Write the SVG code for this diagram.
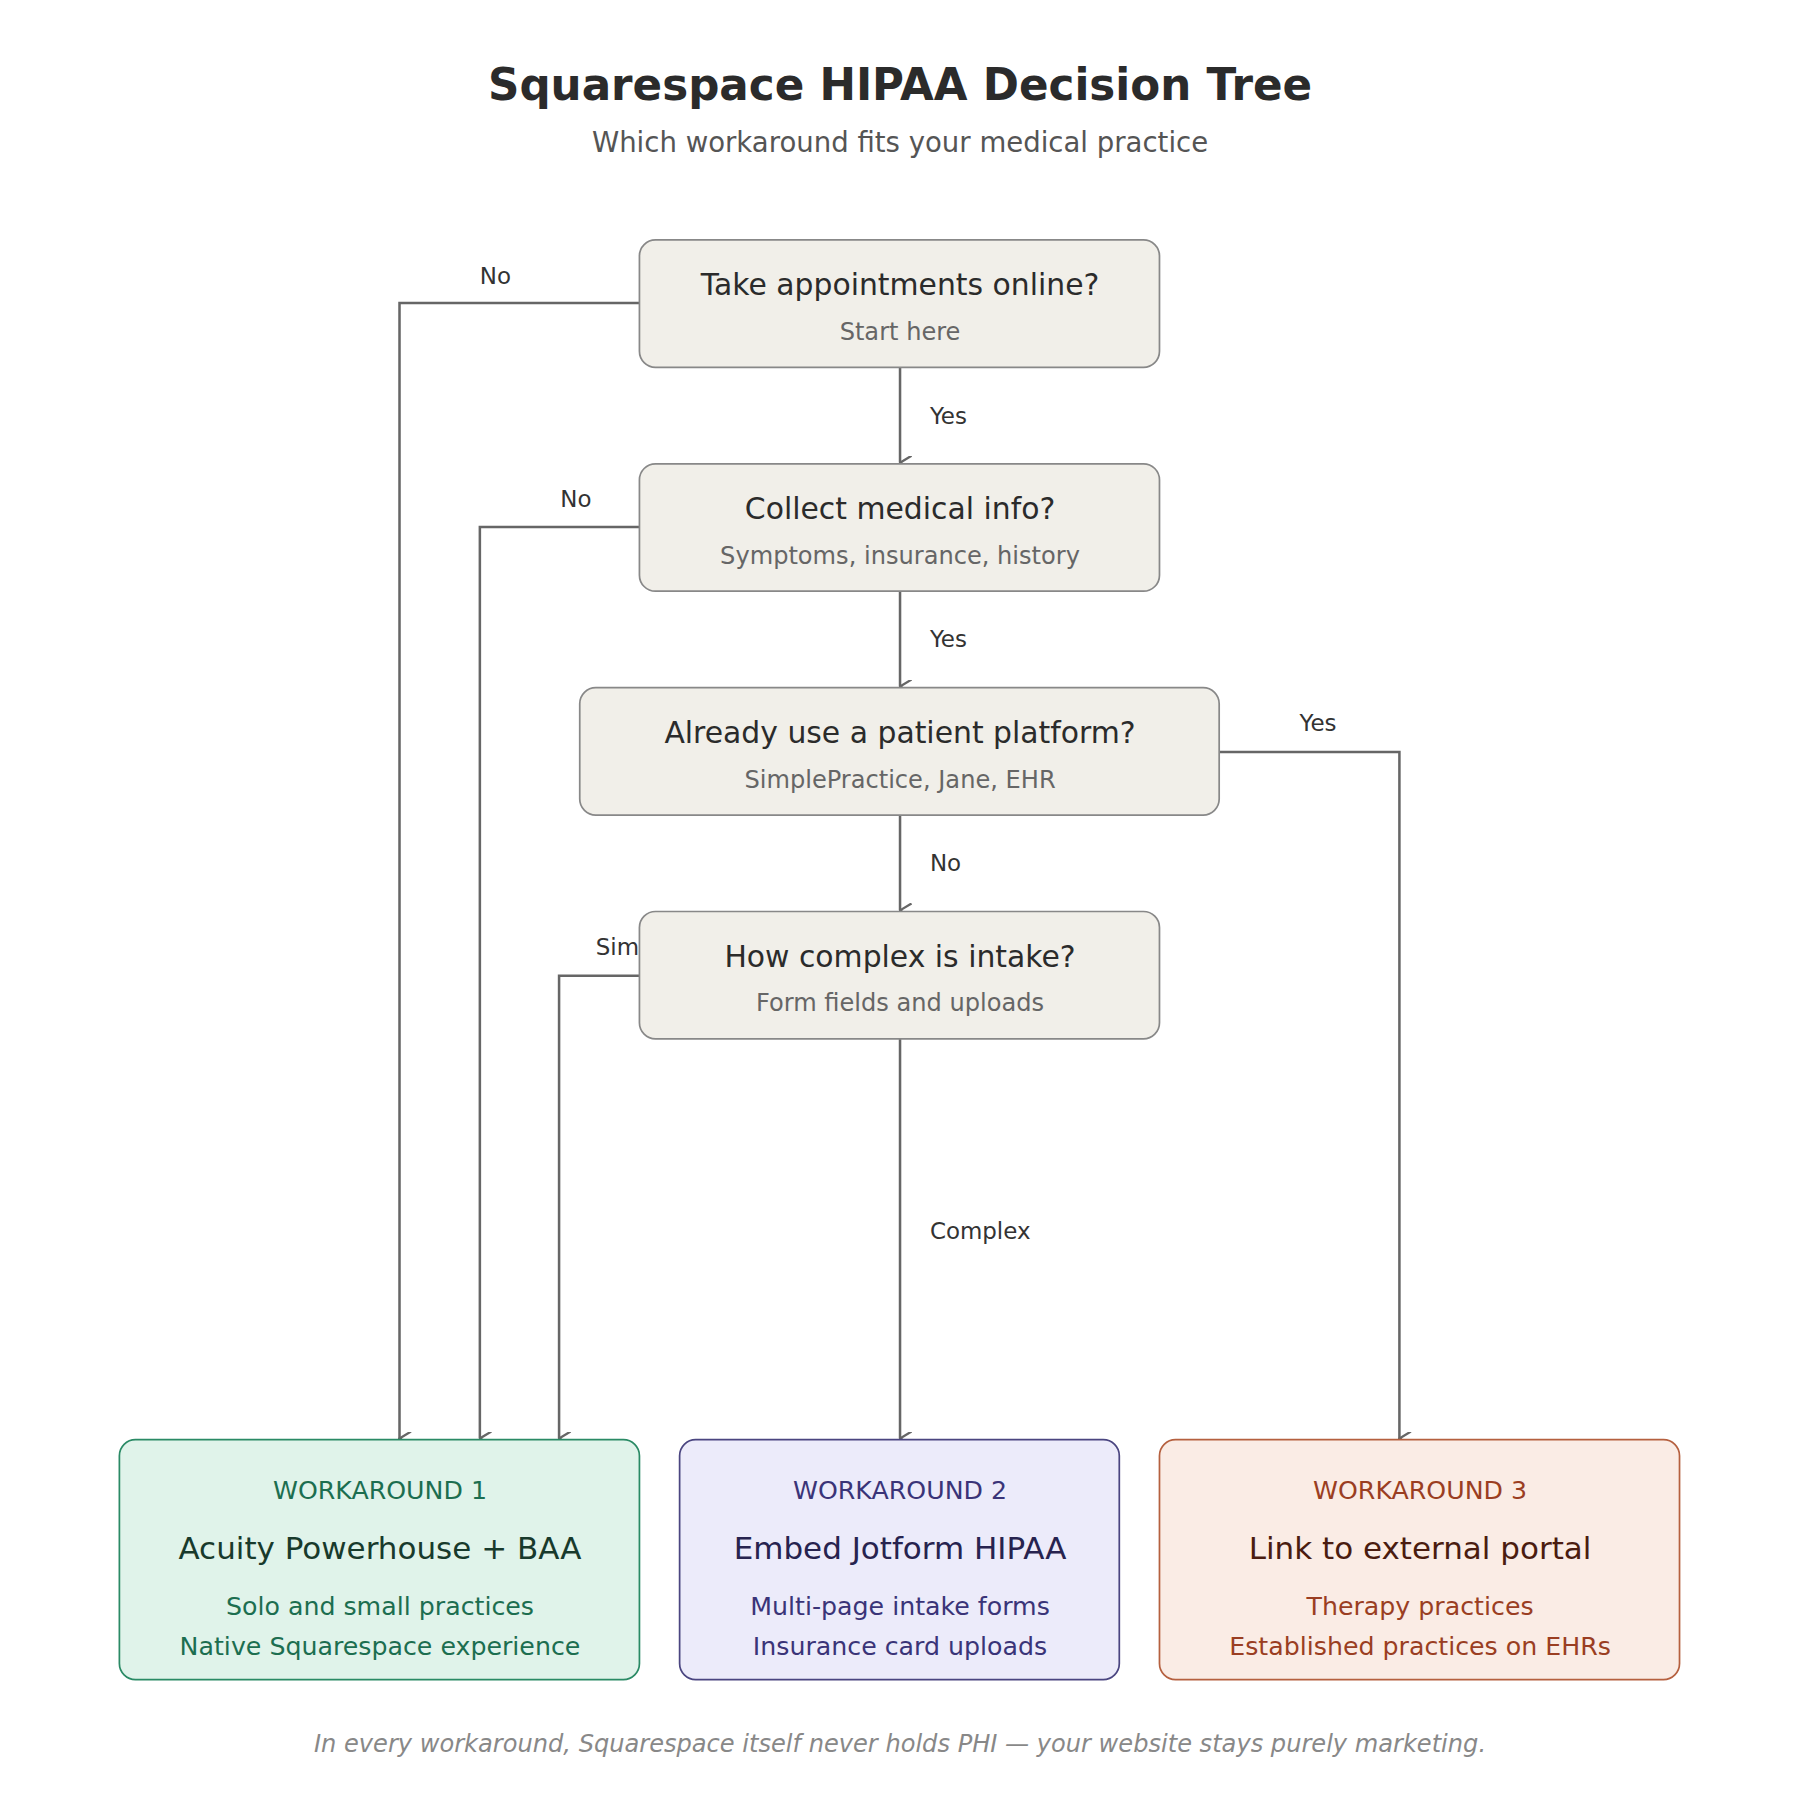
<svg xmlns="http://www.w3.org/2000/svg" width="1800" height="1800" viewBox="0 0 1800 1800">
<style>
text{font-family:"DejaVu Sans","Noto Sans",sans-serif;text-anchor:middle}
.q{fill:#f1efe9;stroke:#888;stroke-width:1.5}
.qt{font-size:26px;fill:#2b2b2b}
.qs{font-size:21px;fill:#666}
.c{fill:none;stroke:#666;stroke-width:2.2}
.l{font-size:20px;fill:#333;text-anchor:start}
.lb{font-size:22px}
.tt{font-size:27px}
.ln{font-size:22px}
</style>
<defs><marker id="a" markerWidth="12" markerHeight="12" refX="6" refY="11" orient="auto-start-reverse" markerUnits="userSpaceOnUse" viewBox="0 0 12 12"><path d="M0,1 L6,11 L12,1" fill="none" stroke="#666" stroke-width="2"/></marker></defs>
<rect width="1800" height="1800" fill="#fff"/>
<g transform="scale(1.148)">
<text x="784" y="87" font-size="38" font-weight="bold" fill="#2b2b2b">Squarespace HIPAA Decision Tree</text>
<text x="784" y="132" font-size="24" fill="#555">Which workaround fits your medical practice</text>
<g id="connectors">
<path class="c" d="M557,264H348V1253" marker-end="url(#a)"/>
<path class="c" d="M557,459H418V1253" marker-end="url(#a)"/>
<path class="c" d="M557,850H487V1253" marker-end="url(#a)"/>
<path class="c" d="M784,320V403" marker-end="url(#a)"/>
<path class="c" d="M784,515V598" marker-end="url(#a)"/>
<path class="c" d="M784,710V793" marker-end="url(#a)"/>
<path class="c" d="M784,905V1253" marker-end="url(#a)"/>
<path class="c" d="M1062,655H1219V1253" marker-end="url(#a)"/>
<text class="l" x="418" y="247">No</text>
<text class="l" x="488" y="442">No</text>
<text class="l" x="519" y="832">Simple</text>
<text class="l" x="810" y="369">Yes</text>
<text class="l" x="810" y="564">Yes</text>
<text class="l" x="810" y="759">No</text>
<text class="l" x="810" y="1079">Complex</text>
<text class="l" x="1132" y="637">Yes</text>
</g>
<g id="n1"><rect class="q" x="557" y="209" width="453" height="111" rx="14"/><text class="qt" x="784" y="257">Take appointments online?</text><text class="qs" x="784" y="296">Start here</text></g>
<g id="n2"><rect class="q" x="557" y="404" width="453" height="111" rx="14"/><text class="qt" x="784" y="452">Collect medical info?</text><text class="qs" x="784" y="491">Symptoms, insurance, history</text></g>
<g id="n3"><rect class="q" x="505" y="599" width="557" height="111" rx="14"/><text class="qt" x="784" y="647">Already use a patient platform?</text><text class="qs" x="784" y="686">SimplePractice, Jane, EHR</text></g>
<g id="n4"><rect class="q" x="557" y="794" width="453" height="111" rx="14"/><text class="qt" x="784" y="842">How complex is intake?</text><text class="qs" x="784" y="881">Form fields and uploads</text></g>
<g id="w1"><rect x="104" y="1254" width="453" height="209" rx="14" fill="#e0f3ea" stroke="#2a8a65" stroke-width="1.5"/>
<text class="lb" x="331" y="1306" fill="#1c6e50">WORKAROUND 1</text><text class="tt" x="331" y="1358" fill="#183a2c">Acuity Powerhouse + BAA</text>
<text class="ln" x="331" y="1407" fill="#1c6e50">Solo and small practices</text><text class="ln" x="331" y="1442" fill="#1c6e50">Native Squarespace experience</text></g>
<g id="w2"><rect x="592" y="1254" width="383" height="209" rx="14" fill="#ecebfa" stroke="#4a4580" stroke-width="1.5"/>
<text class="lb" x="784" y="1306" fill="#3a3478">WORKAROUND 2</text><text class="tt" x="784" y="1358" fill="#27234f">Embed Jotform HIPAA</text>
<text class="ln" x="784" y="1407" fill="#3a3478">Multi-page intake forms</text><text class="ln" x="784" y="1442" fill="#3a3478">Insurance card uploads</text></g>
<g id="w3"><rect x="1010" y="1254" width="453" height="209" rx="14" fill="#faece5" stroke="#b5603f" stroke-width="1.5"/>
<text class="lb" x="1237" y="1306" fill="#9a3e22">WORKAROUND 3</text><text class="tt" x="1237" y="1358" fill="#4a1c10">Link to external portal</text>
<text class="ln" x="1237" y="1407" fill="#9a3e22">Therapy practices</text><text class="ln" x="1237" y="1442" fill="#9a3e22">Established practices on EHRs</text></g>
<text x="784" y="1526" font-size="21" font-style="italic" fill="#888">In every workaround, Squarespace itself never holds PHI — your website stays purely marketing.</text>
</g>
</svg>
